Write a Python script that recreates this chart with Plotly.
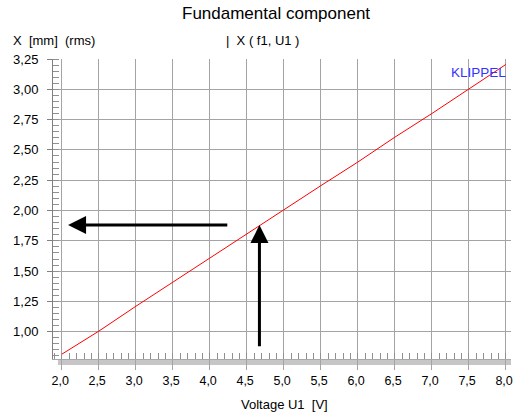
import plotly.graph_objects as go

# ---- data ----
voltage_u1 = [2.0, 2.5, 3.0, 3.5, 4.0, 4.5, 5.0, 5.5, 6.0, 6.5, 7.0, 7.5, 8.0]
x_rms_mm = [0.815, 1.005, 1.21, 1.41, 1.605, 1.805, 2.005, 2.205, 2.40, 2.605, 2.80, 3.00, 3.205]

# reading example shown by the arrows
read_u = 4.67          # voltage where the vertical arrow sits
read_x = 1.88
arrow_up_from = 0.868  # start of vertical arrow (y value)
arrow_left_from = 4.256  # start of horizontal arrow (x value)
arrow_left_to = 2.084    # tip of horizontal arrow (x value)

x_ticks = [2.0, 2.5, 3.0, 3.5, 4.0, 4.5, 5.0, 5.5, 6.0, 6.5, 7.0, 7.5, 8.0]
y_ticks = [1.00, 1.25, 1.50, 1.75, 2.00, 2.25, 2.50, 2.75, 3.00, 3.25]
x_tick_labels = [f"{v:.1f}".replace(".", ",") + "\u00a0" for v in x_ticks]

FONT = "Liberation Sans, Arial, sans-serif"
GRID = "#a4a4a4"
W, H = 516, 416
L, R, T, B = 53, 0, 59, 57
PW, PH = W - L - R, H - T - B


def px(xp):
    return (xp - L) / PW


def py(yp):
    return (H - B - yp) / PH


fig = go.Figure()
fig.add_trace(go.Scatter(x=voltage_u1, y=x_rms_mm, mode="lines",
                         line=dict(color="#ff0000", width=1), hoverinfo="skip"))

ann = []
# arrows
ann.append(dict(x=read_u, y=read_x, ax=read_u, ay=arrow_up_from,
                xref="x", yref="y", axref="x", ayref="y", text="",
                showarrow=True, arrowhead=2, arrowwidth=3, arrowsize=1.2,
                arrowcolor="#000000"))
ann.append(dict(x=arrow_left_to, y=read_x, ax=arrow_left_from, ay=read_x,
                xref="x", yref="y", axref="x", ayref="y", text="",
                showarrow=True, arrowhead=2, arrowwidth=3, arrowsize=1.2,
                arrowcolor="#000000"))

# texts
ann.append(dict(x=px(278), y=py(13), xref="paper", yref="paper",
                text="Fundamental component", showarrow=False,
                xanchor="center", yanchor="middle",
                font=dict(family=FONT, size=17, color="#000000")))
ann.append(dict(x=px(11), y=py(40), xref="paper", yref="paper",
                text="X\u00a0\u00a0[mm]\u00a0\u00a0(rms)", showarrow=False,
                xanchor="left", yanchor="middle",
                font=dict(family=FONT, size=13, color="#000000")))
ann.append(dict(x=px(226), y=py(40), xref="paper", yref="paper",
                text="|\u00a0\u00a0X\u00a0(\u00a0f1,\u00a0U1\u00a0)", showarrow=False,
                xanchor="left", yanchor="middle",
                font=dict(family=FONT, size=13, color="#000000")))
ann.append(dict(x=px(513), y=py(73), xref="paper", yref="paper",
                text="KLIPPEL", showarrow=False,
                xanchor="right", yanchor="middle",
                font=dict(family=FONT, size=13.5, color="#3333ff")))
ann.append(dict(x=px(287), y=py(404), xref="paper", yref="paper",
                text="Voltage\u00a0U1\u00a0\u00a0[V]", showarrow=False,
                xanchor="center", yanchor="middle",
                font=dict(family=FONT, size=13, color="#000000")))

shapes = [dict(type="rect", xref="paper", yref="paper",
               x0=px(58), x1=1.0, y0=py(365), y1=0.0,
               fillcolor="#c6c6c6", line=dict(width=0), layer="below")]

fig.update_layout(
    width=W, height=H,
    margin=dict(l=L, r=R, t=T, b=B, pad=0),
    paper_bgcolor="#ffffff", plot_bgcolor="#ffffff",
    showlegend=False,
    separators=", ",
    font=dict(family=FONT, size=13, color="#000000"),
    annotations=ann, shapes=shapes,
    xaxis=dict(range=[1.88, 8.07], tickvals=x_ticks, ticktext=x_tick_labels,
               showgrid=True, gridcolor=GRID, gridwidth=1,
               zeroline=False, showline=True, linecolor="#a8a8a8", linewidth=1,
               ticks="outside", ticklen=10, tickcolor=GRID, tickwidth=1,
               ticklabeloverflow="allow",
               minor=dict(dtick=0.1, tick0=0, ticks="inside", ticklen=6,
                          tickcolor="#909090", tickwidth=1, showgrid=False),
               tickfont=dict(family=FONT, size=12.5, color="#000000"),
               fixedrange=True),
    yaxis=dict(range=[0.775, 3.2502], tickvals=y_ticks, tickformat=".2f",
               showgrid=True, gridcolor=GRID, gridwidth=1,
               zeroline=False, showline=True, linecolor="#808080", linewidth=1,
               ticks="outside", ticklen=5, tickcolor="#808080", tickwidth=1,
               ticklabelstandoff=6,
               minor=dict(dtick=0.05, tick0=0, ticks="inside", ticklen=6,
                          tickcolor="#909090", tickwidth=1, showgrid=False),
               tickfont=dict(family=FONT, size=13, color="#000000"),
               fixedrange=True),
)

fig.write_html("out.html", config={"displayModeBar": False},
               post_script="document.body.style.margin='0';"
                           "document.body.style.overflow='hidden';")
